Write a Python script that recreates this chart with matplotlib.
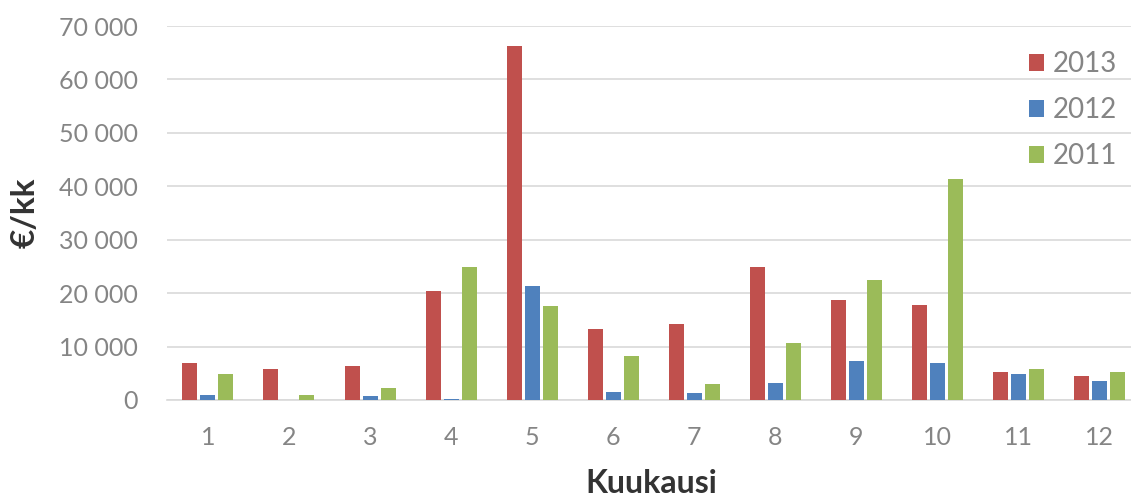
import numpy as np
import matplotlib
matplotlib.use("Agg")
import matplotlib.pyplot as plt
from matplotlib.ticker import FuncFormatter

# data (euro per month)
months = ["1", "2", "3", "4", "5", "6", "7", "8", "9", "10", "11", "12"]
years = ["2013", "2012", "2011"]
v2013 = [7000, 5800, 6400, 20400, 66300, 13300, 14200, 24900, 18700, 17800, 5200, 4500]
v2012 = [1000, 0, 700, 200, 21300, 1500, 1400, 3200, 7300, 6900, 4800, 3500]
v2011 = [4900, 900, 2300, 24900, 17600, 8300, 3000, 10700, 22500, 41300, 5800, 5200]
colors = ["#C0504D", "#4F81BD", "#9BBB59"]

plt.rcParams["font.family"] = ["Lato", "DejaVu Sans"]

fig = plt.figure(figsize=(11.31, 5.01), dpi=100)
ax = fig.add_axes([0.148, 0.2016, 0.86, 0.7464])

x = np.arange(len(months))
w = 0.185
step = 0.222
for i, (vals, name) in enumerate(zip([v2013, v2012, v2011], years)):
    ax.bar(x + (i - 1) * step, vals, width=w, color=colors[i], label=name, zorder=3)

ax.set_ylim(0, 70000)
ax.set_xlim(-0.5, len(months) - 0.5)
ax.set_yticks(np.arange(0, 70001, 10000))
ax.yaxis.set_major_formatter(FuncFormatter(lambda v, p: f"{int(v):,}".replace(",", " ")))
ax.set_xticks(x)
ax.set_xticklabels(months)

ax.grid(axis="y", color="#D9D9D9", linewidth=1.2, zorder=0)
for s in ["top", "right", "left"]:
    ax.spines[s].set_visible(False)
ax.spines["bottom"].set_color("#D9D9D9")
ax.spines["bottom"].set_linewidth(1.2)
ax.tick_params(axis="both", length=0, labelsize=18, labelcolor="#858585")
ax.tick_params(axis="y", pad=21)
ax.tick_params(axis="x", pad=19)

ax.set_ylabel("€/kk", fontsize=24, fontweight="bold", va="center", color="#333333")
ax.set_xlabel("Kuukausi", fontsize=23, fontweight="bold", va="center", color="#333333")
ax.yaxis.set_label_coords(-0.146, 0.5)
ax.xaxis.set_label_coords(0.497, -0.2246)

leg = ax.legend(loc="upper left", bbox_to_anchor=(0.86, 1.0), frameon=False,
                fontsize=20, handlelength=0.55, handleheight=0.55,
                handletextpad=0.3, labelspacing=0.72)
for t in leg.get_texts():
    t.set_color("#858585")

fig.savefig("out.png", dpi=100)
